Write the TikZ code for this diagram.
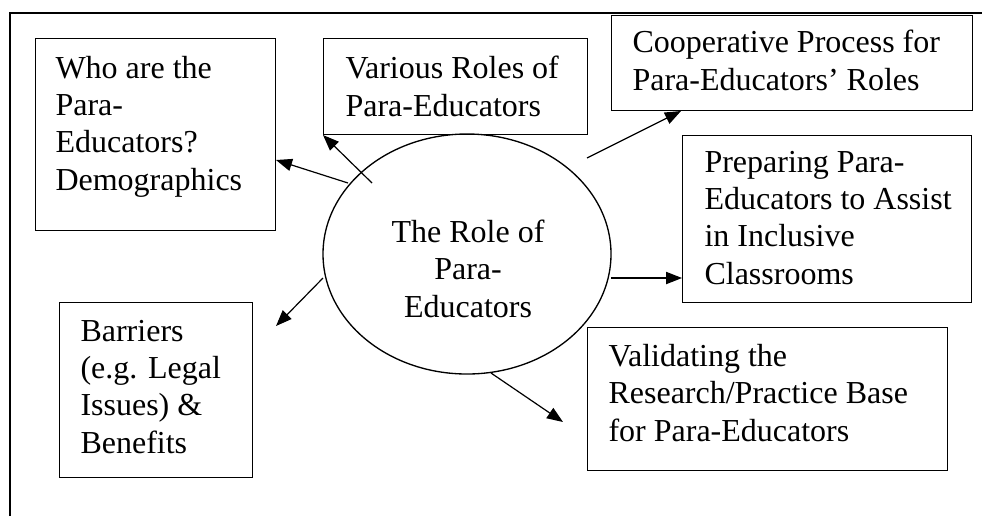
\documentclass[tikz,border=0pt]{standalone}
\usepackage{fontspec}
\setmainfont{Liberation Serif}
\usetikzlibrary{arrows.meta,shapes.geometric}
\begin{document}
\begin{tikzpicture}[x=0.375pt,y=-0.375pt,
  box/.style={draw,line width=0.5pt,inner sep=0pt},
  txt/.style={inner sep=0pt,align=left,anchor=base west,font=\fontsize{12}{13.9}\selectfont},
  ctxt/.style={inner sep=0pt,align=center,anchor=base,font=\fontsize{12}{13.9}\selectfont},
  arr/.style={line width=0.45pt,-{Triangle[length=6pt,width=4.6pt]}},
  frame/.style={line width=0.75pt}]
\useasboundingbox (0,0) rectangle (982,516);
% outer frame (left and top only)
\coordinate (fbl) at (10,516);
\coordinate (ftl) at (10,13);
\coordinate (ftr) at (982,13);
\draw[frame] (fbl) -- (ftl) -- (ftr);
% boxes
\node[box,minimum width=240*0.375pt,minimum height=192*0.375pt,anchor=north west] (b1) at (35,38) {};
\node[box,minimum width=264*0.375pt,minimum height=96*0.375pt,anchor=north west] (b2) at (323,38) {};
\node[box,minimum width=361*0.375pt,minimum height=95*0.375pt,anchor=north west] (b3) at (611,15) {};
\node[box,minimum width=289*0.375pt,minimum height=167*0.375pt,anchor=north west] (b4) at (682,135) {};
\node[box,minimum width=360*0.375pt,minimum height=143*0.375pt,anchor=north west] (b5) at (587,327) {};
\node[box,minimum width=193*0.375pt,minimum height=175*0.375pt,anchor=north west] (b6) at (59,302) {};
% ellipse
\node[draw,ellipse,line width=0.5pt,inner sep=0pt,minimum width=288*0.375pt,minimum height=240*0.375pt] (e) at (467,254) {};
% texts (anchored at the baseline of the last line)
\node[txt] (t1) at (55,190) {Who are the\\Para-\\Educators?\\Demographics};
\node[txt] (t2) at (345,116) {Various Roles of\\Para-Educators};
\node[txt] (t3) at (632,90) {Cooperative Process for\\Para-Educators’ Roles};
\node[txt] (t4) at (704,284) {Preparing Para-\\Educators to Assist\\in Inclusive\\Classrooms};
\node[txt] (t5) at (608,441) {Validating the\\Research/Practice Base\\for Para-Educators};
\node[txt] (t6) at (80,453) {Barriers\\(e.g. Legal\\Issues) \&\\Benefits};
\node[ctxt] (te) at (468,317) {The Role of\\Para-\\Educators};
% arrow end points
\coordinate (s1) at (348,183); \coordinate (a1) at (276,160);
\coordinate (s2) at (372,183); \coordinate (a2) at (323,135);
\coordinate (s3) at (587,158); \coordinate (a3) at (681,111);
\coordinate (s4) at (611,278); \coordinate (a4) at (682,278);
\coordinate (s5) at (491,373); \coordinate (a5) at (563,422);
\coordinate (s6) at (323,278); \coordinate (a6) at (276,326);
\draw[arr] (s1) -- (a1);
\draw[arr] (s2) -- (a2);
\draw[arr] (s3) -- (a3);
\draw[arr] (s4) -- (a4);
\draw[arr] (s5) -- (a5);
\draw[arr] (s6) -- (a6);
\end{tikzpicture}
\end{document}
